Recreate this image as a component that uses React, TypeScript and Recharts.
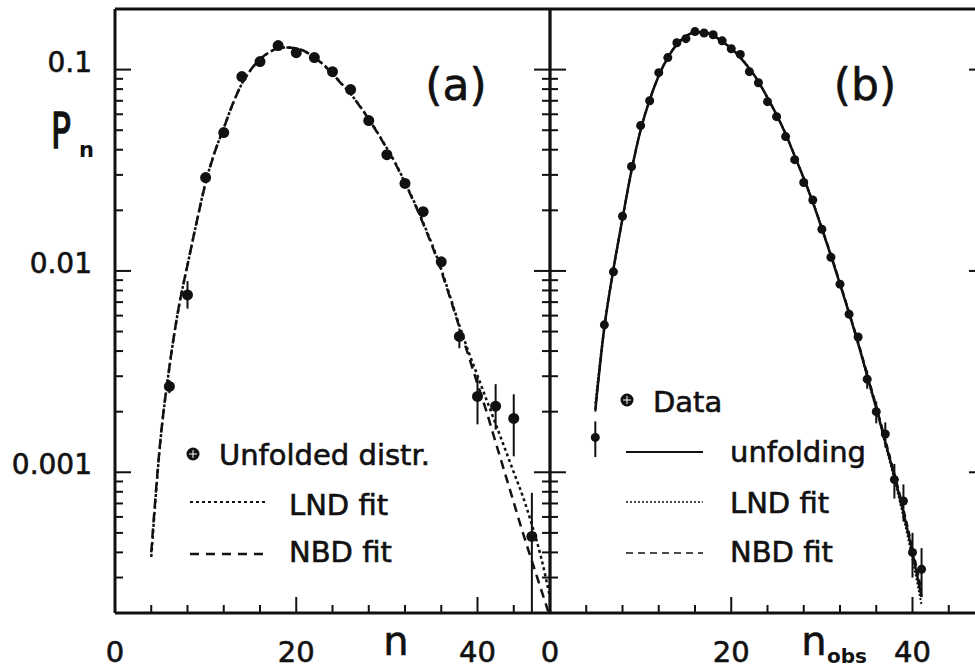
import React from 'react';
import { ComposedChart, Line, Scatter, XAxis, YAxis, ErrorBar } from 'recharts';

const FONT = '"DejaVu Sans", Verdana, sans-serif';
const INK = '#111';

// ---------- axes ----------
const xTicks = [0, 4, 8, 12, 16, 20, 24, 28, 32, 36, 40, 44, 48];
const xMajor = [0, 20, 40];
const xLabels = ['0', '20', '40'];
const yTicks = [
  0.0002, 0.0003, 0.0004, 0.0005, 0.0006, 0.0007, 0.0008, 0.0009,
  0.001, 0.002, 0.003, 0.004, 0.005, 0.006, 0.007, 0.008, 0.009,
  0.01, 0.02, 0.03, 0.04, 0.05, 0.06, 0.07, 0.08, 0.09,
  0.1, 0.2,
];
const yMajor = [0.001, 0.01, 0.1];
const yLabels = ['0.001', '0.01', '0.1'];
const yDomain = [0.0002, 0.2];
const xDomain = [0, 48];

// ---------- panel (a): unfolded distribution ----------
const nA = [6, 8, 10, 12, 14, 16, 18, 20, 22, 24, 26, 28, 30, 32, 34, 36, 38, 40, 42, 44, 46];
const pA = [0.00267, 0.0076, 0.0291, 0.0487, 0.0923, 0.1096, 0.1316, 0.1214, 0.1147, 0.0977, 0.0796,
  0.0558, 0.0378, 0.0272, 0.0197, 0.0111, 0.00473, 0.00238, 0.00213, 0.00185, 0.00048];
const errLoA = [0.0002, 0.0011, 0.0012, 0.0015, 0.0025, 0.003, 0.003, 0.003, 0.003, 0.0025, 0.002,
  0.0016, 0.0011, 0.0009, 0.0008, 0.0005, 0.0006, 0.00065, 0.0005, 0.00065, 0.000279];
const errHiA = [0.0002, 0.0013, 0.0012, 0.0015, 0.0025, 0.003, 0.003, 0.003, 0.003, 0.0025, 0.002,
  0.0016, 0.0011, 0.0009, 0.0008, 0.0005, 0.00045, 0.00061, 0.00061, 0.00059, 0.00031];

const lndNA = [4, 5, 6, 7, 8, 9, 10, 11, 12, 13, 14, 15, 16, 17, 18, 19, 20, 21, 22, 23, 24, 25, 26,
  27, 28, 29, 30, 31, 32, 33, 34, 35, 36, 37, 38, 39, 40, 41, 42, 43, 44, 45, 46, 47, 48];
const lndA = [0.00038, 0.00141, 0.00331, 0.00646, 0.0107, 0.0174, 0.0275, 0.0389, 0.0513, 0.0676,
  0.0851, 0.1, 0.1122, 0.1216, 0.1274, 0.1288, 0.1274, 0.123, 0.1148, 0.1059, 0.0955, 0.0851, 0.0759,
  0.0661, 0.0569, 0.0484, 0.0407, 0.0339, 0.0275, 0.0221, 0.0174, 0.0135, 0.0102, 0.00741, 0.00537,
  0.00398, 0.00302, 0.00229, 0.00174, 0.00132, 0.001, 0.000759, 0.00055, 0.00038, 0.00024];

const nbdNA = [4, 5, 6, 7, 8, 9, 10, 11, 12, 13, 14, 15, 16, 17, 18, 19, 20, 21, 22, 23, 24, 25, 26,
  27, 28, 29, 30, 31, 32, 33, 34, 35, 36, 37, 38, 39, 40, 41, 42, 43, 44, 45, 46, 47, 47.8];
const nbdA = [0.0004, 0.00143, 0.00333, 0.00648, 0.0107, 0.0174, 0.0274, 0.0388, 0.0512, 0.0676,
  0.0852, 0.1002, 0.1124, 0.1218, 0.1276, 0.1289, 0.1274, 0.1229, 0.1146, 0.1057, 0.0953, 0.0849,
  0.0757, 0.0659, 0.0567, 0.0482, 0.0405, 0.0337, 0.0273, 0.0219, 0.0172, 0.0133, 0.01, 0.00728,
  0.00525, 0.0038, 0.00275, 0.002, 0.00141, 0.001, 0.000708, 0.000501, 0.000363, 0.000263, 0.000204];

// ---------- panel (b): observed data ----------
const nB = [5, 6, 7, 8, 9, 10, 11, 12, 13, 14, 15, 16, 17, 18, 19, 20, 21, 22, 23, 24, 25, 26, 27,
  28, 29, 30, 31, 32, 33, 34, 35, 36, 37, 38, 39, 40, 41];
const pB = [0.00149, 0.0054, 0.0099, 0.0187, 0.033, 0.0527, 0.07, 0.0966, 0.1147, 0.136, 0.1425,
  0.1545, 0.152, 0.149, 0.139, 0.127, 0.119, 0.0977, 0.0861, 0.0693, 0.0584, 0.0465, 0.0357, 0.0275,
  0.0225, 0.0161, 0.0117, 0.0086, 0.0061, 0.0047, 0.0029, 0.002, 0.00155, 0.00092, 0.00072, 0.0004,
  0.00033];
const errB = [0.0003, 0.0002, 0.0003, 0.0005, 0.0008, 0.0012, 0.0015, 0.002, 0.002, 0.0025, 0.0025,
  0.0025, 0.0025, 0.0025, 0.0025, 0.0022, 0.002, 0.0018, 0.0016, 0.0014, 0.0012, 0.001, 0.0008,
  0.0007, 0.0006, 0.0005, 0.0004, 0.0003, 0.00025, 0.0002, 0.0003, 0.00025, 0.00022, 0.00018,
  0.00015, 0.0001, 0.00009];
const unfoldB = [0.00204, 0.00525, 0.0102, 0.0182, 0.0316, 0.0501, 0.0708, 0.0933, 0.1148, 0.1334,
  0.1462, 0.1531, 0.1531, 0.1479, 0.138, 0.1274, 0.1148, 0.1012, 0.0871, 0.0724, 0.0596, 0.0479,
  0.0372, 0.0288, 0.0219, 0.0162, 0.0119, 0.00861, 0.00617, 0.00437, 0.00302, 0.00209, 0.00141,
  0.000955, 0.000631, 0.000398, 0.00024];
const lndB = [0.0022, 0.00535, 0.0103, 0.0183, 0.0318, 0.0502, 0.0706, 0.093, 0.1145, 0.133, 0.146,
  0.153, 0.1532, 0.1482, 0.1384, 0.1278, 0.1152, 0.1015, 0.0873, 0.0726, 0.0597, 0.048, 0.0373,
  0.0289, 0.022, 0.0163, 0.0119, 0.0086, 0.00615, 0.00433, 0.00298, 0.00205, 0.00138, 0.00092,
  0.0006, 0.00037, 0.00022];
const nbdB = [0.002, 0.0052, 0.0101, 0.0181, 0.0315, 0.05, 0.0709, 0.0935, 0.115, 0.1336, 0.1463,
  0.153, 0.1528, 0.1476, 0.1378, 0.1272, 0.1146, 0.101, 0.087, 0.0724, 0.0597, 0.048, 0.0374, 0.029,
  0.0221, 0.0164, 0.0121, 0.00875, 0.00628, 0.00446, 0.00309, 0.00214, 0.00146, 0.00099, 0.00066,
  0.00042, 0.00026];

// ---------- helpers ----------
const near = (a: number, b: number) => Math.abs(a - b) <= Math.abs(b) * 1e-6 + 1e-12;

function makeTick(side: 'bottom' | 'top' | 'left' | 'right', majors: number[], labels: string[] | null) {
  return (props: any) => {
    const { x, y, payload } = props;
    const v = payload.value;
    const idx = majors.findIndex((m) => near(v, m));
    const len = idx >= 0 ? 16 : 8;
    let x2 = x, y2 = y;
    if (side === 'bottom') y2 = y - len;
    if (side === 'top') y2 = y + len;
    if (side === 'left') x2 = x + len;
    if (side === 'right') x2 = x - len;
    let text: any = null;
    if (labels && idx >= 0) {
      if (side === 'bottom') {
        text = (
          <text x={x} y={y + 49} textAnchor="middle" fontSize={29} fontFamily={FONT} fill={INK}
            stroke={INK} strokeWidth={0.6}>
            {labels[idx]}
          </text>
        );
      } else if (side === 'left') {
        text = (
          <text x={x - 23} y={y + 2} textAnchor="end" fontSize={28} fontFamily={FONT} fill={INK}
            stroke={INK} strokeWidth={0.6}>
            {labels[idx]}
          </text>
        );
      }
    }
    return (
      <g>
        <line x1={x} y1={y} x2={x2} y2={y2} stroke={INK} strokeWidth={2} />
        {text}
      </g>
    );
  };
}

const axisCommon = {
  type: 'number' as const,
  allowDataOverflow: true,
  interval: 0 as const,
  tickSize: 0,
  tickMargin: 0,
  tickLine: false,
};

const Dot = (r: number) => (p: any) => <circle cx={p.cx} cy={p.cy} r={r} fill={INK} />;

// Axes take 1px each; margins are reduced by 1 so the plot frame lands where intended.
function Panel({ left, width, margin, xLabelsShown, yLabelsShown, children }: any) {
  return (
    <div style={{ position: 'absolute', left, top: 0 }}>
      <ComposedChart width={width} height={669} margin={margin}>
        <XAxis xAxisId="b" dataKey="n" orientation="bottom" domain={xDomain} ticks={xTicks} height={1}
          axisLine={{ stroke: INK, strokeWidth: 3 }} tick={makeTick('bottom', xMajor, xLabelsShown)} {...axisCommon} />
        <XAxis xAxisId="t" orientation="top" domain={xDomain} ticks={xTicks} height={1}
          axisLine={{ stroke: INK, strokeWidth: 3 }} tick={makeTick('top', xMajor, null)} {...axisCommon} />
        <YAxis yAxisId="l" dataKey="p" orientation="left" scale="log" domain={yDomain} ticks={yTicks} width={1}
          axisLine={{ stroke: INK, strokeWidth: 3 }} tick={makeTick('left', yMajor, yLabelsShown)} {...axisCommon} />
        <YAxis yAxisId="r" orientation="right" scale="log" domain={yDomain} ticks={yTicks} width={1}
          axisLine={{ stroke: INK, strokeWidth: 2.5 }} tick={makeTick('right', yMajor, null)} {...axisCommon} />
        {children}
      </ComposedChart>
    </div>
  );
}

export default function App() {
  const ptsA = nA.map((n, i) => ({ n, p: pA[i], e: [errLoA[i], errHiA[i]] }));
  const lndAData = lndNA.map((n, i) => ({ n, p: lndA[i] }));
  const nbdAData = nbdNA.map((n, i) => ({ n, p: nbdA[i] }));
  const ptsB = nB.map((n, i) => ({ n, p: pB[i], e: errB[i] }));
  const unfoldBData = nB.map((n, i) => ({ n, p: unfoldB[i] }));
  const lndBData = nB.map((n, i) => ({ n, p: lndB[i] }));
  const nbdBData = nB.map((n, i) => ({ n, p: nbdB[i] }));

  const lineProps = { xAxisId: 'b', yAxisId: 'l', dataKey: 'p', stroke: INK, dot: false, isAnimationActive: false, type: 'monotone' as const };
  const txt = { stroke: INK, strokeWidth: 0.6 };

  return (
    <div style={{ position: 'absolute', left: 0, top: 0, width: 975, height: 669, overflow: 'hidden', background: '#fff' }}>
      <Panel left={0} width={560} margin={{ top: 8, right: 9, bottom: 55, left: 114 }}
        xLabelsShown={xLabels} yLabelsShown={yLabels}>
        <Line {...lineProps} data={lndAData} strokeWidth={2.5} strokeDasharray="3 3" />
        <Line {...lineProps} data={nbdAData} strokeWidth={2.5} strokeDasharray="9 6" />
        <Scatter xAxisId="b" yAxisId="l" data={ptsA} dataKey="p" isAnimationActive={false} shape={Dot(5.5)}>
          <ErrorBar dataKey="e" direction="y" width={0} stroke={INK} strokeWidth={2} />
        </Scatter>
      </Panel>
      <Panel left={500} width={500} margin={{ top: 8, right: 14, bottom: 55, left: 49 }}
        xLabelsShown={xLabels} yLabelsShown={null}>
        <Line {...lineProps} data={lndBData} strokeWidth={2} strokeDasharray="2 2" />
        <Line {...lineProps} data={nbdBData} strokeWidth={2} strokeDasharray="6 4" />
        <Line {...lineProps} data={unfoldBData} strokeWidth={2.5} />
        <Scatter xAxisId="b" yAxisId="l" data={ptsB} dataKey="p" isAnimationActive={false} shape={Dot(4.5)}>
          <ErrorBar dataKey="e" direction="y" width={0} stroke={INK} strokeWidth={2} />
        </Scatter>
      </Panel>

      <svg width={975} height={669} style={{ position: 'absolute', left: 0, top: 0, pointerEvents: 'none' }}
        fontFamily={FONT} fill={INK}>
        {/* axis titles */}
        <text transform="translate(51,148) scale(0.66,1)" fontSize={50} stroke={INK} strokeWidth={1.6}>P</text>
        <text x={79} y={157} fontSize={21} fontWeight="bold">n</text>
        <text x={396} y={655} fontSize={40} textAnchor="middle" {...txt}>n</text>
        <text x={814} y={655} fontSize={40} textAnchor="middle" {...txt}>n</text>
        <text x={827} y={663} fontSize={20} fontWeight="bold">obs</text>
        <text x={456} y={100} fontSize={44} textAnchor="middle" {...txt}>(a)</text>
        <text x={865} y={100} fontSize={44} textAnchor="middle" {...txt}>(b)</text>

        {/* legend (a) */}
        <circle cx={193} cy={454} r={6.5} fill={INK} />
        <line x1={189} y1={454} x2={197} y2={454} stroke="#fff" strokeWidth={1} />
        <line x1={193} y1={450} x2={193} y2={458} stroke="#fff" strokeWidth={1} />
        <text x={219} y={465} fontSize={29} {...txt}>Unfolded distr.</text>
        <line x1={190} y1={502} x2={268} y2={502} stroke={INK} strokeWidth={2} strokeDasharray="3 3" />
        <text x={289} y={515} fontSize={29} {...txt}>LND fit</text>
        <line x1={190} y1={554} x2={268} y2={554} stroke={INK} strokeWidth={2.5} strokeDasharray="9 7" />
        <text x={289} y={562} fontSize={29} {...txt}>NBD fit</text>

        {/* legend (b) */}
        <circle cx={627} cy={400} r={6.5} fill={INK} />
        <line x1={623} y1={400} x2={631} y2={400} stroke="#fff" strokeWidth={1} />
        <line x1={627} y1={396} x2={627} y2={404} stroke="#fff" strokeWidth={1} />
        <text x={653} y={412} fontSize={29} {...txt}>Data</text>
        <line x1={626} y1={452} x2={703} y2={452} stroke={INK} strokeWidth={2} />
        <text x={730} y={462} fontSize={29} {...txt}>unfolding</text>
        <line x1={626} y1={502} x2={703} y2={502} stroke={INK} strokeWidth={1.5} strokeDasharray="2 2" />
        <text x={730} y={513} fontSize={29} {...txt}>LND fit</text>
        <line x1={626} y1={553} x2={703} y2={553} stroke={INK} strokeWidth={1.5} strokeDasharray="7 5" />
        <text x={730} y={562} fontSize={29} {...txt}>NBD fit</text>
      </svg>
    </div>
  );
}
